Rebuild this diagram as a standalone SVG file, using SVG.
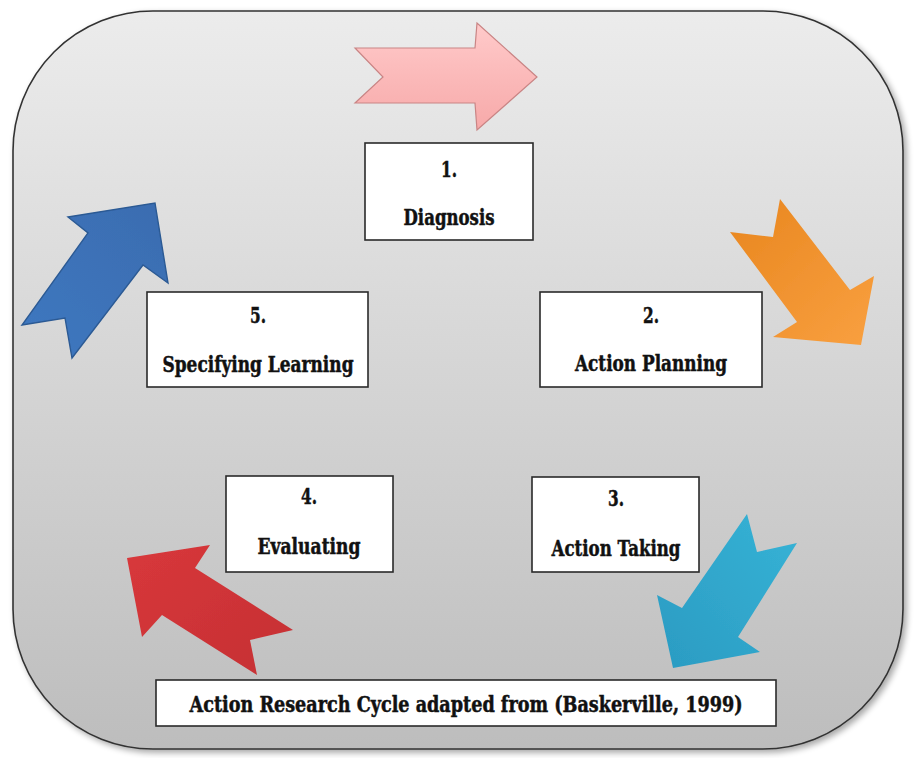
<svg xmlns="http://www.w3.org/2000/svg" width="917" height="758" viewBox="0 0 917 758">
  <defs>
    <linearGradient id="bg" x1="0" y1="0" x2="0" y2="1">
      <stop offset="0" stop-color="#ececec"/>
      <stop offset="1" stop-color="#bdbdbd"/>
    </linearGradient>
    <linearGradient id="gPink" x1="0" y1="0" x2="0" y2="1">
      <stop offset="0" stop-color="#ffcaca"/>
      <stop offset="1" stop-color="#f7a9a9"/>
    </linearGradient>
    <linearGradient id="gOrange" x1="0" y1="0" x2="1" y2="1">
      <stop offset="0" stop-color="#e8861f"/>
      <stop offset="1" stop-color="#f9a040"/>
    </linearGradient>
    <linearGradient id="gBlue" x1="0" y1="1" x2="1" y2="0">
      <stop offset="0" stop-color="#3f78c0"/>
      <stop offset="1" stop-color="#3a6cb0"/>
    </linearGradient>
    <linearGradient id="gCyan" x1="1" y1="0" x2="0" y2="1">
      <stop offset="0" stop-color="#36b3d6"/>
      <stop offset="1" stop-color="#2b9bc2"/>
    </linearGradient>
    <linearGradient id="gRed" x1="0" y1="0" x2="1" y2="1">
      <stop offset="0" stop-color="#d8383b"/>
      <stop offset="1" stop-color="#c52f33"/>
    </linearGradient>
    <filter id="soft" x="-10%" y="-10%" width="120%" height="120%">
      <feGaussianBlur stdDeviation="0.6"/>
    </filter>
    <filter id="shadow" x="-5%" y="-5%" width="115%" height="115%">
      <feGaussianBlur in="SourceAlpha" stdDeviation="3"/>
      <feOffset dx="3" dy="3" result="b"/>
      <feComponentTransfer><feFuncA type="linear" slope="0.35"/></feComponentTransfer>
      <feMerge><feMergeNode/><feMergeNode in="SourceGraphic"/></feMerge>
    </filter>
  </defs>
  <style>
    .box { fill: #ffffff; stroke: #2a2a2a; stroke-width: 1.6; }
    .lbl { font-family: "DejaVu Serif Condensed", "DejaVu Serif", "Liberation Serif", serif; font-weight: bold; font-stretch: condensed; font-size: 23px; fill: #111111; stroke: #111111; stroke-width: 0.5; text-anchor: middle; }
  </style>

  <!-- background panel -->
  <rect x="13" y="11" width="890" height="738" rx="140" ry="140" fill="url(#bg)" stroke="#333333" stroke-width="1.6" filter="url(#shadow)"/>

  <!-- cycle arrows -->
  <g id="connectors" filter="url(#soft)">
    <polygon id="arrow-diag" points="355,48 383,77 355,103 475,103 477,130 537,77 477,23 475,48" fill="url(#gPink)" stroke="#c98585" stroke-width="1.2"/>
    <polygon id="arrow-plan" points="780,199 850,290 874,276 861,345 773,337 797,322 730,232 773,237" fill="url(#gOrange)"/>
    <polygon id="arrow-take" points="747,514 757,552 797,543 738,637 760,652 673,668 657,595 682,608" fill="url(#gCyan)"/>
    <polygon id="arrow-eval" points="127,558 210,545 195,568 293,630 250,640 257,675 162,615 142,637" fill="url(#gRed)"/>
    <polygon id="arrow-learn" points="155,203 168,283 143,265 72,358 65,318 22,325 88,233 68,217" fill="url(#gBlue)" stroke="#2c5a94" stroke-width="1.4"/>
  </g>

  <g id="node-diagnosis">
    <rect class="box" x="365" y="143" width="168" height="97"/>
    <text class="lbl" x="449" y="177" textLength="16" lengthAdjust="spacingAndGlyphs">1.</text>
    <text class="lbl" x="449" y="225" textLength="91" lengthAdjust="spacingAndGlyphs">Diagnosis</text>
  </g>

  <g id="node-action-planning">
    <rect class="box" x="540" y="292" width="222" height="95"/>
    <text class="lbl" x="651" y="323" textLength="16" lengthAdjust="spacingAndGlyphs">2.</text>
    <text class="lbl" x="651" y="371" textLength="152" lengthAdjust="spacingAndGlyphs">Action Planning</text>
  </g>

  <g id="node-action-taking">
    <rect class="box" x="532" y="477" width="167" height="95"/>
    <text class="lbl" x="616" y="506" textLength="16" lengthAdjust="spacingAndGlyphs">3.</text>
    <text class="lbl" x="616" y="556" textLength="129" lengthAdjust="spacingAndGlyphs">Action Taking</text>
  </g>

  <g id="node-evaluating">
    <rect class="box" x="226" y="476" width="167" height="96"/>
    <text class="lbl" x="309" y="504" textLength="16" lengthAdjust="spacingAndGlyphs">4.</text>
    <text class="lbl" x="309" y="554" textLength="103" lengthAdjust="spacingAndGlyphs">Evaluating</text>
  </g>

  <g id="node-specifying-learning">
    <rect class="box" x="147" y="292" width="221" height="95"/>
    <text class="lbl" x="258" y="323" textLength="16" lengthAdjust="spacingAndGlyphs">5.</text>
    <text class="lbl" x="258" y="372" textLength="191" lengthAdjust="spacingAndGlyphs">Specifying Learning</text>
  </g>

  <g id="caption">
    <rect class="box" x="156" y="680" width="620" height="46"/>
    <text class="lbl" x="466" y="712" textLength="553" lengthAdjust="spacingAndGlyphs">Action Research Cycle adapted from (Baskerville, 1999)</text>
  </g>
</svg>
